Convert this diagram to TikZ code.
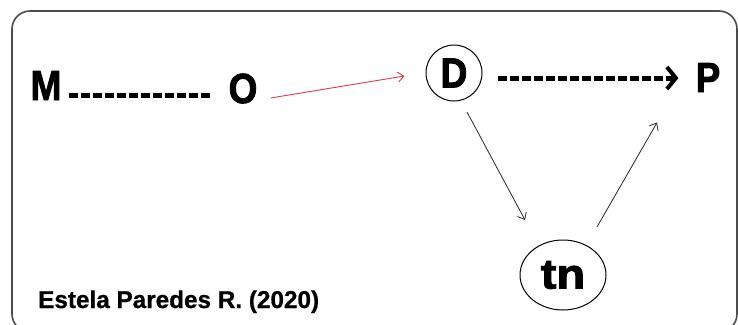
\documentclass[tikz,border=0pt]{standalone}
\usepackage{fontspec}
\setmainfont{Liberation Sans}
\newfontfamily\heavyfont{Liberation Sans Bold}[FakeBold=2.2]
\newfontfamily\credfont{Liberation Sans Bold}[FakeBold=0.8]
\usetikzlibrary{arrows.meta,shapes.geometric}
\definecolor{arrowred}{RGB}{215,60,80}
\tikzset{
  big/.style={inner sep=0pt, font=\fontsize{42}{42}\heavyfont},
  thinarrow/.style={draw=black!85, line width=0.8pt, -{Straight Barb[length=6pt,width=10pt]}},
  redarrow/.style={draw=arrowred, line width=0.9pt, -{Straight Barb[length=6pt,width=10pt]}},
  heavydash/.style={line width=5pt, dash pattern=on 9pt off 3pt},
  frame/.style={draw=black!70, line width=1.6pt, rounded corners=18pt}
}
\newcommand{\sq}[1]{\scalebox{0.88}[1]{#1}}
\begin{document}
\begin{tikzpicture}[x=1pt,y=-1pt]
\useasboundingbox (0,0) rectangle (738,324);
\draw[frame] (12,11) rectangle (737,332);

\node[big, anchor=base] (M) at (46,100) {\sq{M}};
\node[big, anchor=base] (O) at (243,103) {\sq{O}};
\node[big, anchor=base] (P) at (708,92) {\sq{P}};
\node[big, circle, draw, line width=1pt, minimum size=56pt] (D) at (454,73) {\sq{D}};
\node[big, ellipse, draw, line width=1pt, minimum width=86pt, minimum height=70pt] (tn) at (563,275) {\scalebox{1.12}[1]{tn}};

\node[anchor=base west, inner sep=0pt, font=\fontsize{24.3}{24.3}\credfont] (cred) at (38,308) {Estela Paredes R. (2020)};

% M ---- O
\coordinate (m1) at ([shift={(7,-5)}]M.base east);
\coordinate (o1) at ([shift={(-18,0)}]O.base west);
\draw[heavydash] (m1) -- (o1 |- m1);

% O -> D (red)
\draw[redarrow] ([shift={(13,-5)}]O.base east) -- ([shift={(-21,3)}]D.west);

% D ---> P
\coordinate (d1) at ([shift={(15,5)}]D.east);
\coordinate (p1) at ([xshift=-17pt]P.west);
\draw[heavydash, -{Straight Barb[length=9pt,width=22pt,line width=4pt]}] (d1) -- (p1 |- d1);

% D -> tn, tn -> P
\draw[thinarrow] ([shift={(13,39)}]D.center) -- ([shift={(-38,-55)}]tn.center);
\draw[thinarrow] ([shift={(34,-48)}]tn.center) -- ([shift={(-51,45)}]P.center);
\end{tikzpicture}
\end{document}
